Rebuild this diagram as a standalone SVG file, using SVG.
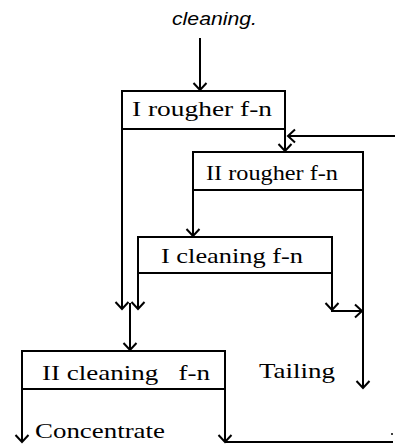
<svg xmlns="http://www.w3.org/2000/svg" width="395" height="445" viewBox="0 0 395 445">
<style>
.box{fill:#fff;stroke:#000;stroke-width:2}
.lbl{font-family:"Liberation Serif",serif;font-size:22px;fill:#000;white-space:pre}
.cap{font-family:"Liberation Sans",sans-serif;font-style:italic;font-size:18px;fill:#000}
.c{fill:none;stroke:#000;stroke-width:2}
</style>
<defs>
<marker id="ah" markerUnits="userSpaceOnUse" markerWidth="16" markerHeight="16" viewBox="-9 -8 10 16" refX="0" refY="0" orient="auto">
<path d="M-7,-6.5 L0,0 L-7,6.5" fill="none" stroke="#000" stroke-width="2"/>
</marker>
</defs>
<text class="cap" x="172" y="25" textLength="85" lengthAdjust="spacingAndGlyphs">cleaning.</text>
<g id="connectors">
<line class="c" x1="200" y1="38" x2="200" y2="90" marker-end="url(#ah)"/>
<line class="c" x1="122" y1="129" x2="122" y2="309" marker-end="url(#ah)"/>
<line class="c" x1="285" y1="129" x2="285" y2="151" marker-end="url(#ah)"/>
<line class="c" x1="395" y1="136" x2="288" y2="136" marker-end="url(#ah)"/>
<line class="c" x1="193" y1="190" x2="193" y2="236" marker-end="url(#ah)"/>
<line class="c" x1="363" y1="190" x2="363" y2="388" marker-end="url(#ah)"/>
<line class="c" x1="138" y1="273" x2="138" y2="309" marker-end="url(#ah)"/>
<line class="c" x1="130" y1="303" x2="130" y2="350" marker-end="url(#ah)"/>
<line class="c" x1="332" y1="273" x2="332" y2="310" marker-end="url(#ah)"/>
<line class="c" x1="331" y1="311" x2="362" y2="311" marker-end="url(#ah)"/>
<line class="c" x1="22" y1="389" x2="22" y2="442" marker-end="url(#ah)"/>
<line class="c" x1="225" y1="389" x2="225" y2="442" marker-end="url(#ah)"/>
<line class="c" x1="225" y1="442" x2="393" y2="442"/>
<circle cx="392" cy="434" r="1" fill="#000"/>
</g>
<g id="rougher1">
<rect class="box" x="122" y="91" width="163" height="38"/>
<text class="lbl" x="132" y="116" textLength="140" lengthAdjust="spacingAndGlyphs">I rougher f-n</text>
</g>
<g id="rougher2">
<rect class="box" x="193" y="152" width="170" height="38"/>
<text class="lbl" x="206" y="180" textLength="132" lengthAdjust="spacingAndGlyphs">II rougher f-n</text>
</g>
<g id="cleaning1">
<rect class="box" x="138" y="237" width="194" height="36"/>
<text class="lbl" x="161" y="263" textLength="142" lengthAdjust="spacingAndGlyphs">I cleaning f-n</text>
</g>
<g id="cleaning2">
<rect class="box" x="22" y="351" width="203" height="38"/>
<text class="lbl" x="42" y="380" textLength="168" lengthAdjust="spacingAndGlyphs">II cleaning   f-n</text>
</g>
<g id="tailing">
<text class="lbl" x="259" y="378" textLength="76" lengthAdjust="spacingAndGlyphs">Tailing</text>
</g>
<g id="concentrate">
<text class="lbl" x="35" y="438" textLength="130" lengthAdjust="spacingAndGlyphs">Concentrate</text>
</g>
</svg>
